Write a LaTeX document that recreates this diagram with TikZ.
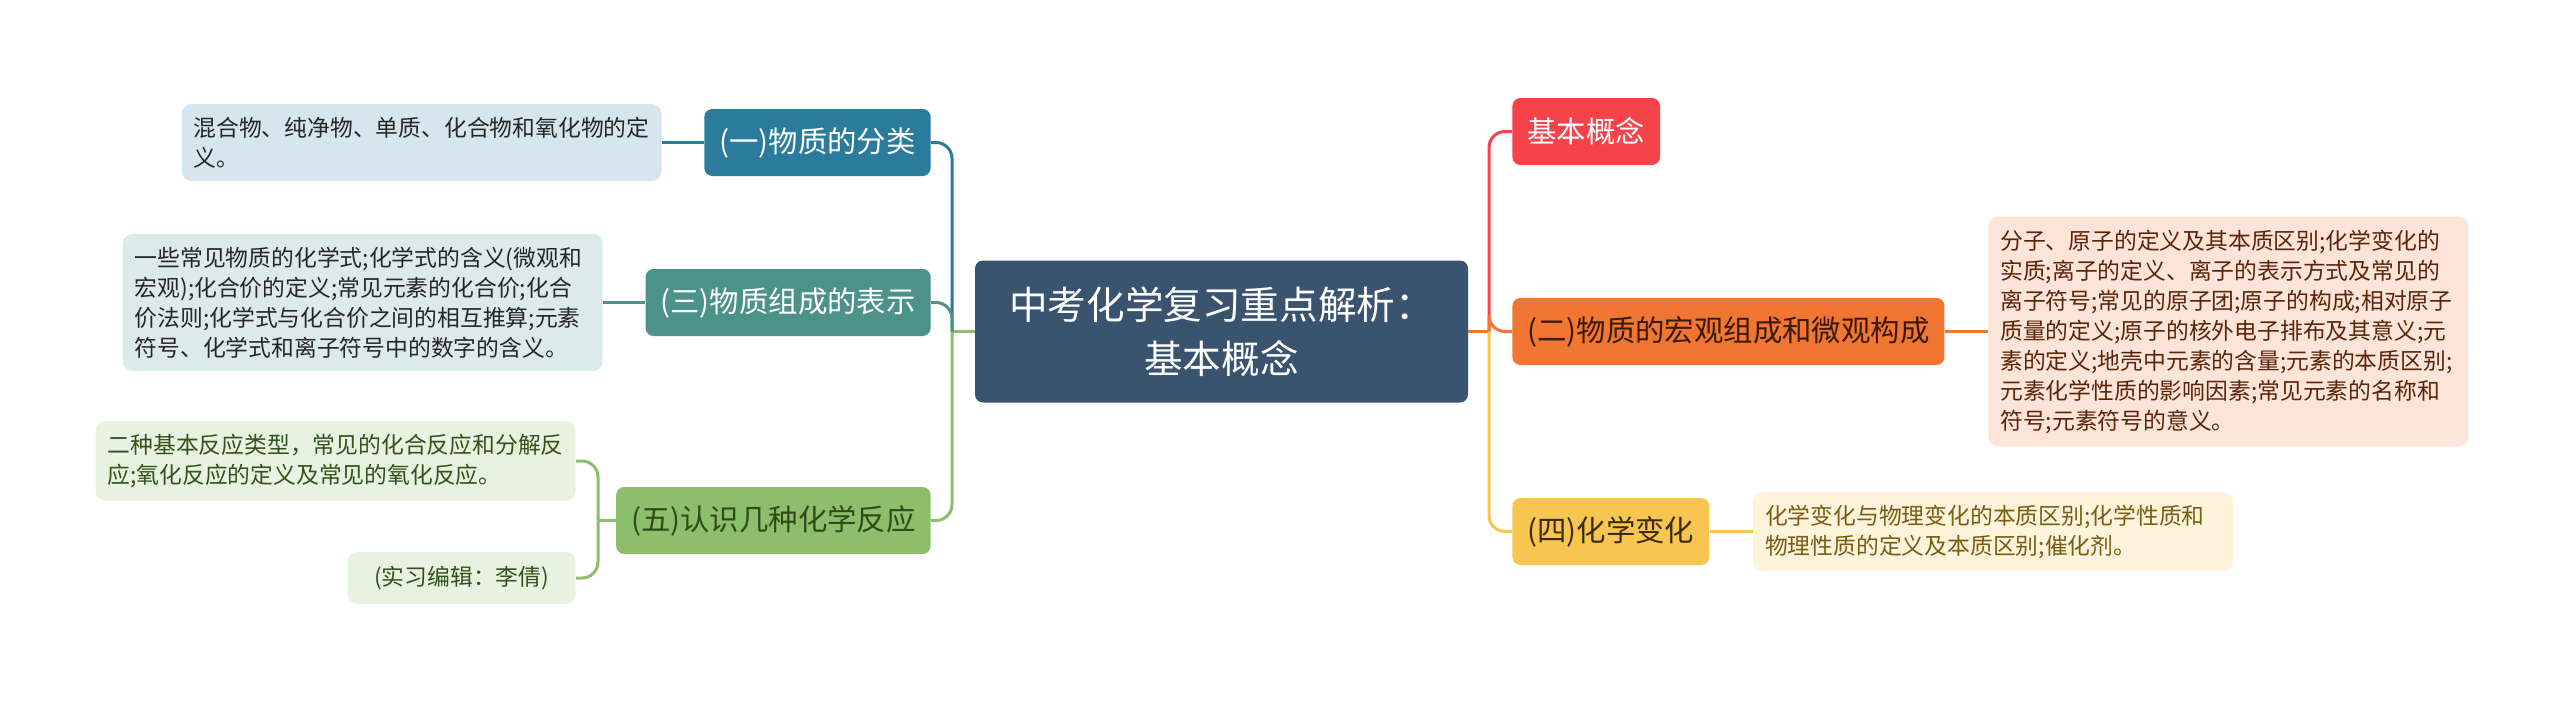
\documentclass[tikz,border=0pt]{standalone}
\usepackage{fontspec}
\setmainfont{Noto Sans CJK SC}
\usetikzlibrary{positioning}
\definecolor{hub}{HTML}{3A5470}
\definecolor{cone}{HTML}{2A7B9C}
\definecolor{cthree}{HTML}{4D918B}
\definecolor{cfive}{HTML}{8DBE6C}
\definecolor{cred}{HTML}{F64249}
\definecolor{ctwo}{HTML}{F07631}
\definecolor{cfour}{HTML}{F8C551}
\definecolor{pone}{HTML}{D6E6EE}
\definecolor{pthree}{HTML}{DCEBEA}
\definecolor{pfive}{HTML}{E8F2E1}
\definecolor{ptwo}{HTML}{FCE4D9}
\definecolor{pfour}{HTML}{FEF4DC}
\definecolor{tfive}{HTML}{2F4A16}
\definecolor{ttwo}{HTML}{3A1905}
\definecolor{tfour}{HTML}{3A2D05}
\definecolor{lfive}{HTML}{33511A}
\definecolor{ltwo}{HTML}{5B2408}
\definecolor{lfour}{HTML}{7A5B12}

\begin{document}
\begin{tikzpicture}[x=0.5pt,y=-0.5pt,
  branch/.style={rounded corners=4pt,inner xsep=7.5pt,inner ysep=0pt,minimum height=33.5pt,font=\fontsize{14.7}{17}\selectfont},
  leaf/.style={rounded corners=5pt,inner xsep=6pt,inner ysep=6.5pt,align=left,font=\fontsize{11.4}{15}\selectfont},
  leafw/.style={leaf,text width=228pt},
  link/.style={line width=1.5pt,rounded corners=8pt}]
  \useasboundingbox (0,0) rectangle (2560,702);
  \node[fill=hub,text=white,rounded corners=4pt,minimum width=246.5pt,minimum height=71pt,align=center,font=\fontsize{19.3}{27}\selectfont] (main) at (1221.5,331.5) {中考化学复习重点解析：\\基本概念};
  \coordinate (jl) at (952,331.5);
  \coordinate (jr) at (1489,331.5);
  % left side
  \node[branch,fill=cone,text=white,anchor=east] (sort) at (931,142.5) {(一)物质的分类};
  \node[branch,fill=cthree,text=white,anchor=east] (expr) at (931,302.5) {(三)物质组成的表示};
  \node[branch,fill=cfive,text=tfive,anchor=east] (react) at (931,520.5) {(五)认识几种化学反应};
  \node[leafw,fill=pone,text=black!85,left=21pt of sort] (sortleaf) {混合物、纯净物、单质、化合物和氧化物的定\\义。};
  \node[leafw,fill=pthree,text=black!85,left=21pt of expr] (exprleaf) {一些常见物质的化学式;化学式的含义(微观和\\宏观);化合价的定义;常见元素的化合价;化合\\价法则;化学式与化合价之间的相互推算;元素\\符号、化学式和离子符号中的数字的含义。};
  \node[leafw,fill=pfive,text=lfive,anchor=east] (reactleaf) at (576,461) {二种基本反应类型，常见的化合反应和分解反\\应;氧化反应的定义及常见的氧化反应。};
  \node[leaf,fill=pfive,text=lfive,anchor=east,minimum width=114pt,minimum height=26pt,align=center] (editor) at (576,578) {(实习编辑：李倩)};
  % right side
  \node[branch,fill=cred,text=white,anchor=west] (basic) at (1512,131.5) {基本概念};
  \node[branch,fill=ctwo,text=ttwo,anchor=west] (struct) at (1512,331.5) {(二)物质的宏观组成和微观构成};
  \node[branch,fill=cfour,text=tfour,anchor=west] (change) at (1512,531.5) {(四)化学变化};
  \node[leafw,fill=ptwo,text=ltwo,right=21.5pt of struct] (structleaf) {分子、原子的定义及其本质区别;化学变化的\\实质;离子的定义、离子的表示方式及常见的\\离子符号;常见的原子团;原子的构成;相对原子\\质量的定义;原子的核外电子排布及其意义;元\\素的定义;地壳中元素的含量;元素的本质区别;\\元素化学性质的影响因素;常见元素的名称和\\符号;元素符号的意义。};
  \node[leafw,fill=pfour,text=lfour,right=21.5pt of change] (changeleaf) {化学变化与物理变化的本质区别;化学性质和\\物理性质的定义及本质区别;催化剂。};
  % connectors
  \draw[link,cfive] (main.west) -- (jl);
  \draw[link,ctwo] (main.east) -- (jr);
  \foreach \b/\c in {sort/cone,expr/cthree,react/cfive} {
    \draw[link,\c] (jl) |- (\b.east);
  }
  \foreach \b/\c in {basic/cred,struct/ctwo,change/cfour} {
    \draw[link,\c] (jr) |- (\b.west);
  }
  \draw[link,cone] (sort.west) -- (sortleaf.east);
  \draw[link,cthree] (expr.west) -- (exprleaf.east);
  \coordinate (jfive) at (598,520.5);
  \draw[link,cfive] (react.west) -- (jfive);
  \foreach \l in {reactleaf,editor} {
    \draw[link,cfive] (jfive) |- (\l.east);
  }
  \draw[link,ctwo] (struct.east) -- (structleaf.west);
  \draw[link,cfour] (change.east) -- (changeleaf.west);
\end{tikzpicture}
\end{document}
